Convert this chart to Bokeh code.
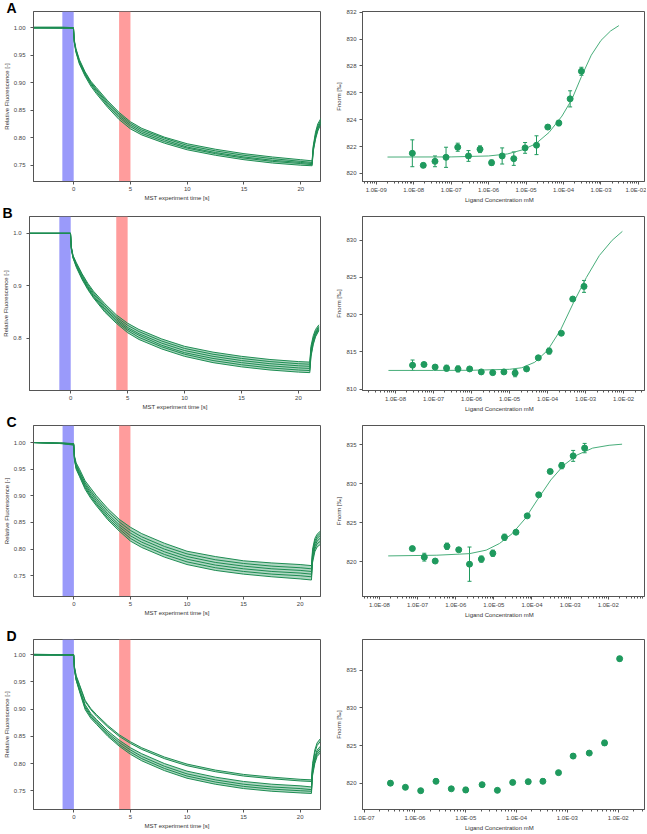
from bokeh.plotting import figure
from bokeh.layouts import column, row
from bokeh.models import (ColumnDataSource, Whisker, TeeHead, FixedTicker, CustomJSTickFormatter,
                          BoxAnnotation, Range1d, PrintfTickFormatter, Title)
from bokeh.embed import file_html
from bokeh.resources import INLINE

# ---------------- MST traces (time in s, relative fluorescence) ----------------
T = [-3.6, -1.0, -0.02, 0.05, 0.2, 0.5, 1.0, 1.5, 2.0, 3.0, 4.0, 5.0, 6.0, 8.0, 10.0,
     12.5, 15.0, 17.5, 20.0, 21.0, 21.1, 21.3, 21.5, 21.8]

A_traces = [
    [1.001, 1.001, 1.0, 0.978, 0.962, 0.942, 0.920, 0.903, 0.891, 0.867, 0.846, 0.829, 0.817, 0.801, 0.789, 0.779, 0.771, 0.765, 0.760, 0.758, 0.785, 0.810, 0.825, 0.836],
    [1.0, 1.0, 1.0, 0.976, 0.960, 0.940, 0.918, 0.901, 0.888, 0.864, 0.843, 0.826, 0.814, 0.799, 0.786, 0.776, 0.768, 0.762, 0.757, 0.755, 0.782, 0.806, 0.821, 0.833],
    [1.0, 1.0, 0.999, 0.975, 0.958, 0.938, 0.916, 0.899, 0.886, 0.861, 0.840, 0.823, 0.811, 0.796, 0.783, 0.773, 0.765, 0.759, 0.755, 0.753, 0.780, 0.803, 0.818, 0.830],
    [1.0, 0.999, 0.999, 0.974, 0.957, 0.936, 0.914, 0.897, 0.883, 0.858, 0.837, 0.820, 0.808, 0.793, 0.781, 0.771, 0.763, 0.757, 0.753, 0.751, 0.777, 0.800, 0.815, 0.828],
    [0.999, 0.999, 0.999, 0.973, 0.955, 0.934, 0.912, 0.894, 0.880, 0.855, 0.833, 0.816, 0.805, 0.790, 0.778, 0.768, 0.760, 0.754, 0.750, 0.749, 0.775, 0.797, 0.812, 0.826],
]
B_traces = [
    [1.0, 1.0, 1.0, 0.975, 0.958, 0.944, 0.923, 0.905, 0.890, 0.866, 0.845, 0.829, 0.817, 0.799, 0.785, 0.774, 0.766, 0.760, 0.756, 0.755, 0.785, 0.805, 0.817, 0.826],
    [1.0, 1.0, 1.0, 0.974, 0.957, 0.942, 0.921, 0.902, 0.887, 0.862, 0.841, 0.825, 0.813, 0.795, 0.781, 0.770, 0.762, 0.756, 0.752, 0.751, 0.780, 0.800, 0.813, 0.823],
    [1.0, 1.0, 1.0, 0.973, 0.956, 0.940, 0.918, 0.899, 0.884, 0.859, 0.838, 0.821, 0.809, 0.791, 0.777, 0.766, 0.758, 0.752, 0.748, 0.747, 0.776, 0.797, 0.810, 0.821],
    [1.0, 1.0, 1.0, 0.972, 0.955, 0.938, 0.916, 0.897, 0.881, 0.856, 0.835, 0.818, 0.806, 0.787, 0.773, 0.762, 0.754, 0.748, 0.744, 0.743, 0.772, 0.794, 0.808, 0.819],
    [1.0, 1.0, 1.0, 0.971, 0.954, 0.937, 0.914, 0.895, 0.879, 0.853, 0.832, 0.815, 0.802, 0.784, 0.770, 0.758, 0.750, 0.744, 0.740, 0.739, 0.768, 0.791, 0.805, 0.817],
    [1.0, 1.0, 1.0, 0.970, 0.953, 0.935, 0.912, 0.893, 0.877, 0.850, 0.829, 0.811, 0.798, 0.780, 0.766, 0.754, 0.746, 0.740, 0.736, 0.735, 0.765, 0.788, 0.803, 0.815],
]
C_traces = [
    [1.0, 0.999, 0.998, 0.975, 0.962, 0.950, 0.928, 0.914, 0.900, 0.876, 0.856, 0.841, 0.829, 0.811, 0.796, 0.786, 0.778, 0.774, 0.771, 0.769, 0.800, 0.820, 0.828, 0.834],
    [1.0, 0.999, 0.998, 0.973, 0.959, 0.946, 0.924, 0.909, 0.895, 0.871, 0.851, 0.835, 0.823, 0.805, 0.791, 0.780, 0.773, 0.768, 0.765, 0.763, 0.795, 0.815, 0.824, 0.830],
    [1.0, 0.999, 0.997, 0.972, 0.957, 0.943, 0.921, 0.905, 0.891, 0.866, 0.846, 0.830, 0.818, 0.800, 0.786, 0.775, 0.768, 0.763, 0.760, 0.758, 0.790, 0.810, 0.820, 0.826],
    [1.0, 0.998, 0.996, 0.970, 0.954, 0.940, 0.918, 0.901, 0.887, 0.862, 0.842, 0.825, 0.813, 0.795, 0.781, 0.770, 0.763, 0.758, 0.755, 0.753, 0.785, 0.805, 0.815, 0.821],
    [1.0, 0.998, 0.996, 0.969, 0.952, 0.938, 0.915, 0.898, 0.884, 0.858, 0.838, 0.820, 0.808, 0.790, 0.776, 0.765, 0.758, 0.753, 0.750, 0.748, 0.780, 0.800, 0.810, 0.815],
    [1.0, 0.998, 0.995, 0.967, 0.950, 0.936, 0.912, 0.895, 0.881, 0.855, 0.834, 0.815, 0.803, 0.785, 0.771, 0.760, 0.753, 0.748, 0.744, 0.742, 0.775, 0.795, 0.804, 0.809],
]
D_traces = [
    [1.001, 1.0, 1.0, 0.978, 0.962, 0.945, 0.916, 0.901, 0.890, 0.870, 0.853, 0.840, 0.829, 0.812, 0.799, 0.788, 0.780, 0.775, 0.771, 0.770, 0.800, 0.825, 0.838, 0.846],
    [1.0, 1.0, 1.0, 0.977, 0.960, 0.943, 0.914, 0.899, 0.887, 0.867, 0.850, 0.837, 0.826, 0.809, 0.796, 0.785, 0.777, 0.772, 0.768, 0.767, 0.796, 0.820, 0.833, 0.841],
    [1.0, 1.0, 1.0, 0.975, 0.957, 0.938, 0.908, 0.892, 0.881, 0.860, 0.843, 0.829, 0.818, 0.800, 0.786, 0.775, 0.767, 0.762, 0.759, 0.757, 0.790, 0.812, 0.825, 0.832],
    [1.0, 1.0, 0.999, 0.974, 0.955, 0.936, 0.905, 0.889, 0.878, 0.856, 0.839, 0.825, 0.813, 0.795, 0.781, 0.770, 0.762, 0.757, 0.754, 0.752, 0.786, 0.808, 0.821, 0.828],
    [1.0, 0.999, 0.999, 0.973, 0.954, 0.934, 0.902, 0.886, 0.875, 0.853, 0.835, 0.821, 0.809, 0.791, 0.777, 0.766, 0.758, 0.753, 0.750, 0.749, 0.782, 0.804, 0.817, 0.824],
    [0.999, 0.999, 0.999, 0.972, 0.953, 0.932, 0.899, 0.883, 0.872, 0.850, 0.832, 0.817, 0.805, 0.787, 0.773, 0.762, 0.754, 0.749, 0.746, 0.745, 0.778, 0.800, 0.813, 0.820],
]

# ---------------- Dose-response (ligand concentration mM, Fnorm permille) ----------------
A_conc = [9.2e-9, 1.8e-8, 3.7e-8, 7.3e-8, 1.5e-7, 2.9e-7, 5.9e-7, 1.2e-6, 2.3e-6, 4.7e-6, 9.4e-6, 1.9e-5, 3.8e-5, 7.5e-5, 1.5e-4, 3.0e-4]
A_fnorm = [821.5, 820.6, 820.9, 821.2, 821.95, 821.3, 821.8, 820.8, 821.3, 821.1, 821.9, 822.1, 823.45, 823.75, 825.55, 827.6]
A_err = [1.0, 0.15, 0.4, 0.75, 0.3, 0.4, 0.25, 0.2, 0.6, 0.5, 0.4, 0.7, 0.1, 0.2, 0.6, 0.3]
A_fit_conc = [2.0e-9, 1.0e-7, 1.0e-6, 3.2e-6, 8.1e-6, 1.8e-5, 4.1e-5, 9.1e-5, 1.66e-4, 3.0e-4, 5.5e-4, 1.0e-3, 1.8e-3, 3.0e-3]
A_fit_val = [821.22, 821.23, 821.3, 821.45, 821.76, 822.2, 823.05, 824.27, 825.5, 827.2, 828.8, 829.9, 830.6, 831.0]

B_conc = [2.8e-8, 5.6e-8, 1.1e-7, 2.2e-7, 4.4e-7, 8.9e-7, 1.8e-6, 3.6e-6, 7.1e-6, 1.4e-5, 2.8e-5, 5.7e-5, 1.1e-4, 2.3e-4, 4.6e-4, 9.1e-4]
B_fnorm = [813.2, 813.3, 812.95, 812.8, 812.7, 812.7, 812.3, 812.2, 812.3, 812.15, 812.7, 814.2, 815.1, 817.5, 822.1, 823.8]
B_err = [0.7, 0.15, 0.15, 0.4, 0.4, 0.2, 0.1, 0.1, 0.15, 0.5, 0.15, 0.2, 0.4, 0.2, 0.15, 0.8]
B_fit_conc = [6.5e-9, 1.0e-7, 1.0e-6, 1.0e-5, 2.1e-5, 4.6e-5, 1.0e-4, 2.2e-4, 4.8e-4, 1.05e-3, 2.3e-3, 5.0e-3, 9.3e-3]
B_fit_val = [812.5, 812.5, 812.52, 812.65, 812.86, 813.6, 815.2, 817.95, 821.6, 825.0, 827.95, 830.0, 831.2]

C_conc = [7.3e-8, 1.5e-7, 2.9e-7, 5.9e-7, 1.2e-6, 2.3e-6, 4.7e-6, 9.4e-6, 1.9e-5, 3.8e-5, 7.5e-5, 1.5e-4, 3.0e-4, 6.0e-4, 1.2e-3, 2.4e-3]
C_fnorm = [821.7, 820.6, 820.1, 822.0, 821.55, 819.7, 820.35, 821.1, 823.15, 823.8, 825.9, 828.6, 831.6, 832.35, 833.6, 834.6]
C_err = [0.2, 0.5, 0.15, 0.4, 0.1, 2.2, 0.4, 0.4, 0.4, 0.2, 0.15, 0.15, 0.15, 0.4, 0.7, 0.6]
C_fit_conc = [1.7e-8, 3.2e-7, 2.3e-6, 6.3e-6, 1.4e-5, 3.0e-5, 6.5e-5, 1.4e-4, 3.1e-4, 6.8e-4, 1.5e-3, 3.9e-3, 1.05e-2, 2.3e-2]
C_fit_val = [820.76, 820.85, 821.05, 821.5, 822.35, 823.6, 825.5, 828.0, 830.5, 832.4, 833.7, 834.6, 834.96, 835.1]

D_conc = [3.3e-7, 6.5e-7, 1.3e-6, 2.6e-6, 5.2e-6, 1.0e-5, 2.1e-5, 4.2e-5, 8.4e-5, 1.7e-4, 3.3e-4, 6.7e-4, 1.3e-3, 2.7e-3, 5.4e-3, 1.07e-2]
D_fnorm = [820.0, 819.45, 819.0, 820.25, 819.25, 819.1, 819.8, 819.05, 820.1, 820.2, 820.25, 821.4, 823.6, 824.0, 825.35, 836.55]
D_err = [0.3, 0.15, 0.1, 0.3, 0.1, 0.35, 0.15, 0.1, 0.25, 0.15, 0.3, 0.15, 0.3, 0.15, 0.35, 0.3]

LETTERS = ["A", "B", "C", "D"]

GREEN = "#1d8c52"
DOT = "#1f9a5e"
FIT = "#48ad7a"
FONT = "Liberation Sans"
AX = "#555555"


def style(p, ystand):
    p.outline_line_color = AX
    p.outline_line_width = 1
    p.xgrid.visible = False
    p.ygrid.visible = False
    for ax in (p.xaxis[0], p.yaxis[0]):
        ax.axis_line_color = AX
        ax.major_tick_line_color = AX
        ax.minor_tick_line_color = AX
        ax.major_tick_out = 3
        ax.major_tick_in = 0
        ax.minor_tick_out = 2
        ax.minor_tick_in = 0
        ax.major_label_text_font = FONT
        ax.major_label_text_font_size = "6px"
        ax.major_label_text_color = "#444444"
        ax.major_label_standoff = 2
        ax.axis_label_text_font = FONT
        ax.axis_label_text_font_size = "6px"
        ax.axis_label_text_font_style = "normal"
        ax.axis_label_text_color = "#333333"
        ax.axis_label_standoff = 1
    p.yaxis[0].major_label_standoff = ystand


def left_panel(traces, bands, xr, yr, yticks, yfmt, height, top, bottom, letter):
    p = figure(width=333, height=height, x_range=Range1d(*xr), y_range=Range1d(*yr),
               output_backend="svg", toolbar_location=None, title=None,
               min_border_left=29, min_border_right=13, min_border_top=top, min_border_bottom=bottom)
    p.add_layout(BoxAnnotation(left=-1, right=0, fill_color="#9a9afa", fill_alpha=1.0,
                               line_alpha=0, level="underlay"))
    p.add_layout(BoxAnnotation(left=4, right=5, fill_color="#ff9c9c", fill_alpha=1.0,
                               line_alpha=0, level="underlay"))
    for i0, i1 in bands:
        p.varea(x=T, y1=traces[i1], y2=traces[i0], fill_color=GREEN, fill_alpha=0.35)
    for tr in traces:
        p.line(T, tr, line_color=GREEN, line_width=1)
    style(p, 5)
    p.xaxis.ticker = FixedTicker(ticks=[0, 5, 10, 15, 20], minor_ticks=[])
    p.yaxis.ticker = FixedTicker(ticks=yticks, minor_ticks=[])
    p.yaxis.formatter = PrintfTickFormatter(format=yfmt)
    p.xaxis.axis_label = "MST experiment time [s]"
    p.yaxis.axis_label = "Relative Fluorescence [-]"
    p.add_layout(Title(text=letter, text_font=FONT, text_font_style="bold",
                       text_font_size="14px", align="left", offset=-27, standoff=-8,
                       text_color="#000000"), "above")
    return p


def right_panel(conc, fnorm, err, fit_c, fit_v, xr, yr, yticks, height, top, bottom):
    p = figure(width=313, height=height, x_axis_type="log", x_range=Range1d(*xr),
               y_range=Range1d(*yr), output_backend="svg", toolbar_location=None, title=None,
               min_border_left=21, min_border_right=2, min_border_top=top, min_border_bottom=bottom)
    if fit_c is not None:
        p.line(fit_c, fit_v, line_color=FIT, line_width=1)
    src = ColumnDataSource(dict(x=conc, y=fnorm,
                                lo=[v - e for v, e in zip(fnorm, err)],
                                hi=[v + e for v, e in zip(fnorm, err)]))
    p.add_layout(Whisker(source=src, base="x", upper="hi", lower="lo", line_color=DOT, line_width=1,
                         upper_head=TeeHead(size=4, line_color=DOT, line_width=1),
                         lower_head=TeeHead(size=4, line_color=DOT, line_width=1)))
    p.scatter("x", "y", source=src, size=6, fill_color=DOT, line_color=DOT)
    style(p, 3)
    decades = [10.0 ** e for e in range(-10, 0)]
    minors = [k * d for d in decades for k in range(2, 10)]
    p.xaxis.ticker = FixedTicker(ticks=decades, minor_ticks=minors)
    p.xaxis.formatter = CustomJSTickFormatter(code="""
        const e = Math.round(Math.log10(tick));
        const a = Math.abs(e);
        return "1.0E" + (e < 0 ? "-" : "+") + (a < 10 ? "0" + a : a);
    """)
    p.yaxis.ticker = FixedTicker(ticks=yticks, minor_ticks=[])
    p.xaxis.axis_label = "Ligand Concentration      mM"
    p.yaxis.axis_label = "Fnorm [\u2030]"
    return p


rows_cfg = [
    # height, top, bottom
    (205, 11, 20),
    (209, 11, 20),
    (206, 11, 20),
    (213, 19, 19),
]

lA = left_panel(A_traces, [(0, 4)], (-3.54, 21.74), (0.7204, 1.0294), [0.75, 0.80, 0.85, 0.90, 0.95, 1.00], "%.2f", *rows_cfg[0], LETTERS[0])
lB = left_panel(B_traces, [(0, 5)], (-3.62, 21.94), (0.701, 1.032), [0.8, 0.9, 1.0], "%.1f", *rows_cfg[1], LETTERS[1])
lC = left_panel(C_traces, [(0, 5)], (-3.57, 21.8), (0.711, 1.032), [0.75, 0.80, 0.85, 0.90, 0.95, 1.00], "%.2f", *rows_cfg[2], LETTERS[2])
lD = left_panel(D_traces, [(0, 1), (2, 5)], (-3.57, 21.8), (0.7155, 1.028), [0.75, 0.80, 0.85, 0.90, 0.95, 1.00], "%.2f", *rows_cfg[3], LETTERS[3])

rA = right_panel(A_conc, A_fnorm, A_err, A_fit_conc, A_fit_val, (4.3e-10, 1.45e-2), (819.4, 832.05), [820, 822, 824, 826, 828, 830, 832], *rows_cfg[0])
rB = right_panel(B_conc, B_fnorm, B_err, B_fit_conc, B_fit_val, (1.35e-9, 3.55e-2), (809.8, 833.2), [810, 815, 820, 825, 830], *rows_cfg[1])
rC = right_panel(C_conc, C_fnorm, C_err, C_fit_conc, C_fit_val, (3.6e-9, 8.9e-2), (815.55, 837.5), [820, 825, 830, 835], *rows_cfg[2])
rD = right_panel(D_conc, D_fnorm, D_err, None, None, (9.3e-8, 3.3e-2), (816.5, 839.1), [820, 825, 830, 835], *rows_cfg[3])

layout = column(row(lA, rA), row(lB, rB), row(lC, rC), row(lD, rD))

open("out.html", "w").write(file_html(layout, INLINE))
